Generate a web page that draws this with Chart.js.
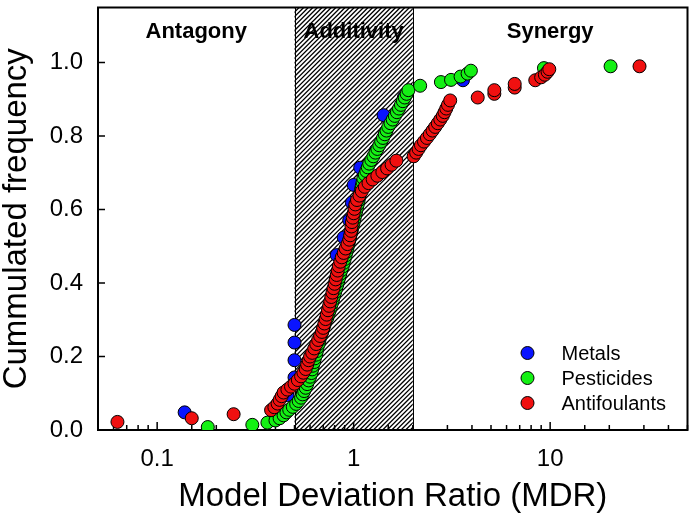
<!DOCTYPE html>
<html>
<head>
<meta charset="utf-8">
<script src="https://cdn.jsdelivr.net/npm/chart.js@4"></script>
<style>
  body { margin: 0; background: #fff; }
  canvas { display: block; }
</style>
</head>
<body>
<canvas id="mdrChart" width="695" height="528"></canvas>
<script>
// region limits on the MDR axis and their names
var regionBounds = [0.05, 0.5, 2, 50];
var regionLabels = ["Antagony", "Additivity", "Synergy"];
var yTicks = [0, 0.2, 0.4, 0.6, 0.8, 1.0];
var xLabelled = [0.1, 1, 10];

var metalsX = [0.138, 0.46, 0.5, 0.5, 0.5, 0.5, 0.75, 0.79, 0.83, 0.82,
               0.89, 0.95, 0.98, 1.0, 1.08, 1.3, 1.45, 1.42, 1.8, 3.6];
var metalsY = [0.048, 0.095, 0.143, 0.19, 0.238, 0.286, 0.333, 0.381, 0.429, 0.476,
               0.524, 0.571, 0.619, 0.667, 0.714, 0.762, 0.81, 0.857, 0.905, 0.952];

var pesticidesX = [0.181, 0.305, 0.364, 0.40, 0.42, 0.44, 0.455, 0.47, 0.49, 0.51,
                   0.525, 0.54, 0.55, 0.56, 0.57, 0.58, 0.59, 0.60, 0.61, 0.615,
                   0.62, 0.63, 0.635, 0.645, 0.65, 0.655, 0.665, 0.67, 0.68, 0.69,
                   0.70, 0.71, 0.72, 0.735, 0.745, 0.755, 0.765, 0.775, 0.785, 0.795,
                   0.805, 0.815, 0.825, 0.835, 0.845, 0.855, 0.865, 0.88, 0.89, 0.90,
                   0.91, 0.92, 0.93, 0.94, 0.95, 0.96, 0.97, 0.98, 0.99, 1.0,
                   1.01, 1.02, 1.03, 1.04, 1.05, 1.06, 1.07, 1.08, 1.09, 1.1,
                   1.11, 1.12, 1.14, 1.16, 1.18, 1.2, 1.23, 1.26, 1.29, 1.32,
                   1.35, 1.38, 1.41, 1.44, 1.47, 1.5, 1.54, 1.58, 1.62, 1.66,
                   1.7, 1.74, 1.78, 1.82, 1.86, 1.9, 2.18, 2.78, 3.13, 3.5,
                   3.8, 3.95, 9.3, 20.3];
var pesticidesY = [0.008, 0.014, 0.02, 0.026, 0.032, 0.04, 0.048, 0.055, 0.063, 0.071,
                   0.079, 0.088, 0.097, 0.106, 0.115, 0.125, 0.135, 0.145, 0.155, 0.165,
                   0.175, 0.185, 0.195, 0.205, 0.215, 0.225, 0.235, 0.245, 0.255, 0.265,
                   0.275, 0.285, 0.295, 0.305, 0.315, 0.325, 0.335, 0.345, 0.355, 0.365,
                   0.375, 0.385, 0.395, 0.405, 0.415, 0.425, 0.435, 0.445, 0.455, 0.465,
                   0.475, 0.485, 0.495, 0.505, 0.515, 0.525, 0.535, 0.545, 0.555, 0.565,
                   0.575, 0.585, 0.595, 0.605, 0.615, 0.625, 0.635, 0.645, 0.655, 0.665,
                   0.675, 0.685, 0.695, 0.705, 0.715, 0.725, 0.735, 0.745, 0.755, 0.765,
                   0.775, 0.785, 0.795, 0.805, 0.815, 0.825, 0.835, 0.845, 0.855, 0.865,
                   0.875, 0.885, 0.895, 0.905, 0.915, 0.925, 0.937, 0.947, 0.953, 0.962,
                   0.97, 0.978, 0.985, 0.99];

var antifoulantsX = [0.0628, 0.150, 0.245, 0.38, 0.395, 0.41, 0.42, 0.43, 0.44, 0.46,
                     0.48, 0.50, 0.52, 0.54, 0.555, 0.57, 0.58, 0.59, 0.60, 0.615,
                     0.63, 0.645, 0.66, 0.675, 0.69, 0.70, 0.71, 0.72, 0.73, 0.74,
                     0.75, 0.76, 0.77, 0.78, 0.79, 0.80, 0.81, 0.82, 0.83, 0.84,
                     0.855, 0.87, 0.89, 0.91, 0.93, 0.95, 0.96, 0.97, 0.975, 0.98,
                     0.99, 1.0, 1.01, 1.02, 1.04, 1.07, 1.1, 1.14, 1.19, 1.25,
                     1.32, 1.4, 1.48, 1.56, 1.65, 2.02, 2.08, 2.14, 2.2, 2.28,
                     2.36, 2.44, 2.52, 2.6, 2.68, 2.76, 2.84, 2.9, 2.96, 3.02,
                     3.1, 4.28, 5.2, 5.2, 6.6, 6.6, 8.4, 9.0, 9.4, 9.7,
                     9.9, 28.5];
var antifoulantsY = [0.022, 0.032, 0.043, 0.054, 0.062, 0.072, 0.082, 0.092, 0.102, 0.11,
                     0.118, 0.126, 0.136, 0.146, 0.156, 0.166, 0.178, 0.19, 0.2, 0.21,
                     0.222, 0.234, 0.245, 0.256, 0.267, 0.278, 0.29, 0.302, 0.314, 0.326,
                     0.338, 0.35, 0.362, 0.374, 0.386, 0.398, 0.41, 0.422, 0.434, 0.446,
                     0.458, 0.47, 0.482, 0.494, 0.506, 0.518, 0.53, 0.542, 0.554, 0.566,
                     0.578, 0.59, 0.602, 0.614, 0.626, 0.638, 0.65, 0.662, 0.672, 0.682,
                     0.692, 0.702, 0.712, 0.722, 0.733, 0.745, 0.755, 0.765, 0.775, 0.785,
                     0.795, 0.805, 0.815, 0.825, 0.835, 0.845, 0.855, 0.865, 0.875, 0.885,
                     0.897, 0.905, 0.915, 0.925, 0.932, 0.942, 0.952, 0.96, 0.967, 0.975,
                     0.982, 0.99];

var FONT = "Arial, 'Liberation Sans', sans-serif";

function toPoints(xs, ys) {
    return xs.map(function (v, i) { return { x: v, y: ys[i] }; });
}

function series(label, xs, ys, color, order) {
    return {
        label: label,
        data: toPoints(xs, ys),
        backgroundColor: color,
        borderColor: "#000",
        borderWidth: 1,
        pointRadius: 6.5,
        order: order
    };
}

// hatched additivity band, region names, frame and inward ticks
var backdrop = {
    id: "backdrop",
    beforeDatasetsDraw: function (chart) {
        var ctx = chart.ctx, a = chart.chartArea;
        var xs = chart.scales.x, ys = chart.scales.y;
        var x0 = xs.getPixelForValue(regionBounds[1]);
        var x1 = xs.getPixelForValue(regionBounds[2]);

        ctx.save();
        ctx.beginPath();
        ctx.rect(x0, a.top, x1 - x0, a.bottom - a.top);
        ctx.clip();
        ctx.strokeStyle = "#000";
        ctx.lineWidth = 1.3;
        ctx.beginPath();
        var h = a.bottom - a.top;
        for (var s = x0 - h; s < x1 + 5; s += 4.6) {
            ctx.moveTo(s, a.bottom);
            ctx.lineTo(s + h, a.top);
        }
        ctx.stroke();
        ctx.restore();

        ctx.save();
        ctx.strokeStyle = "#000";
        ctx.lineWidth = 1;
        ctx.beginPath();
        ctx.moveTo(Math.round(x0) + 0.5, a.top);
        ctx.lineTo(Math.round(x0) + 0.5, a.bottom);
        ctx.moveTo(Math.round(x1) + 0.5, a.top);
        ctx.lineTo(Math.round(x1) + 0.5, a.bottom);
        ctx.stroke();

        ctx.fillStyle = "#000";
        ctx.font = "bold 22px " + FONT;
        ctx.textAlign = "center";
        ctx.textBaseline = "middle";
        for (var i = 0; i < regionLabels.length; i++) {
            var mid = Math.sqrt(regionBounds[i] * regionBounds[i + 1]);
            ctx.fillText(regionLabels[i], xs.getPixelForValue(mid), a.top + 24);
        }

        // ticks pointing into the plot
        ctx.lineWidth = 1.5;
        ctx.beginPath();
        xs.ticks.forEach(function (t) {
            var px = xs.getPixelForValue(t.value);
            var major = Math.abs(Math.log10(t.value) - Math.round(Math.log10(t.value))) < 1e-9;
            ctx.moveTo(px, a.bottom);
            ctx.lineTo(px, a.bottom - (major ? 8 : 5));
        });
        ys.ticks.forEach(function (t) {
            var py = ys.getPixelForValue(t.value);
            ctx.moveTo(a.left, py);
            ctx.lineTo(a.left + 7, py);
        });
        ctx.stroke();

        ctx.lineWidth = 2;
        ctx.strokeRect(a.left, a.top, a.right - a.left, a.bottom - a.top);
        ctx.restore();
    }
};

var legendBox = {
    id: "legendBox",
    afterDatasetsDraw: function (chart) {
        var ctx = chart.ctx, a = chart.chartArea;
        ctx.save();
        ctx.font = "20px " + FONT;
        ctx.textAlign = "left";
        ctx.textBaseline = "middle";
        chart.data.datasets.forEach(function (ds, i) {
            var cy = a.bottom - 77 + i * 25;
            var cx = a.right - 160;
            ctx.beginPath();
            ctx.arc(cx, cy, 6.5, 0, Math.PI * 2);
            ctx.fillStyle = ds.backgroundColor;
            ctx.fill();
            ctx.lineWidth = 1;
            ctx.strokeStyle = "#000";
            ctx.stroke();
            ctx.fillStyle = "#000";
            ctx.fillText(ds.label, cx + 34, cy + 1);
        });
        ctx.restore();
    }
};

var config = {
    type: "scatter",
    data: {
        datasets: [
            series("Metals", metalsX, metalsY, "#0a14ff", 3),
            series("Pesticides", pesticidesX, pesticidesY, "#14f014", 2),
            series("Antifoulants", antifoulantsX, antifoulantsY, "#f01010", 1)
        ]
    },
    options: {
        responsive: false,
        animation: false,
        events: [],
        layout: { padding: { top: 5, right: 5, left: 0, bottom: 0 } },
        scales: {
            x: {
                type: "logarithmic",
                min: regionBounds[0],
                max: regionBounds[3],
                afterFit: function (s) {
                    s.height = 98;
                    s.paddingLeft = 0;
                    s.paddingRight = 0;
                },
                grid: { display: false, drawTicks: false },
                border: { display: false },
                ticks: {
                    autoSkip: false,
                    maxRotation: 0,
                    padding: 15,
                    color: "#000",
                    font: { family: FONT, size: 24 },
                    callback: function (v) {
                        return xLabelled.indexOf(v) >= 0 ? String(v) : "";
                    }
                },
                title: {
                    display: true,
                    text: "Model Deviation Ratio (MDR)",
                    color: "#000",
                    font: { family: FONT, size: 33 },
                    padding: { top: 0, bottom: 11 }
                }
            },
            y: {
                min: 0,
                max: 1.15,
                afterFit: function (s) {
                    s.width = 98;
                    s.paddingTop = 0;
                    s.paddingBottom = 0;
                },
                afterBuildTicks: function (s) {
                    s.ticks = yTicks.map(function (v) { return { value: v }; });
                },
                grid: { display: false, drawTicks: false },
                border: { display: false },
                ticks: {
                    padding: 15,
                    color: "#000",
                    font: { family: FONT, size: 24 },
                    callback: function (v) { return v.toFixed(1); }
                },
                title: {
                    display: true,
                    text: "Cummulated frequency",
                    color: "#000",
                    font: { family: FONT, size: 33 },
                    padding: -3
                }
            }
        },
        plugins: {
            legend: { display: false },
            tooltip: { enabled: false }
        }
    },
    plugins: [backdrop, legendBox]
};

var ctx = document.getElementById("mdrChart").getContext("2d");
var chart = new Chart(ctx, config);
</script>
</body>
</html>
